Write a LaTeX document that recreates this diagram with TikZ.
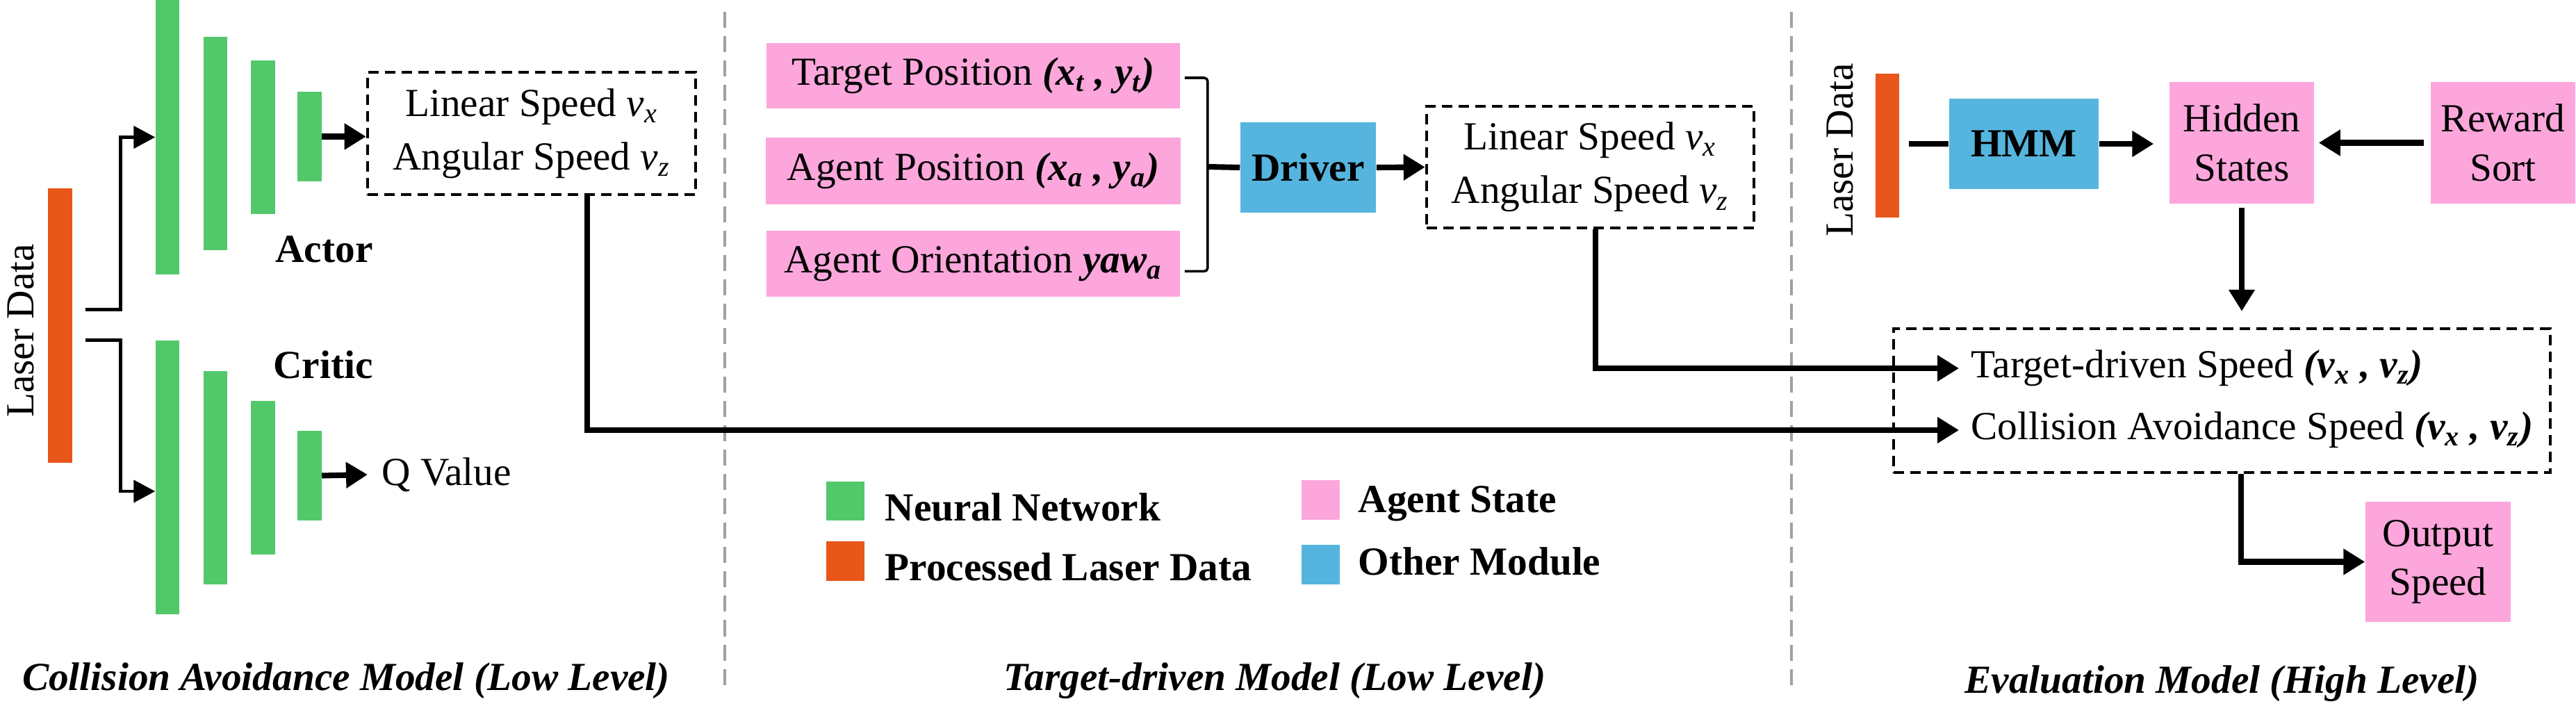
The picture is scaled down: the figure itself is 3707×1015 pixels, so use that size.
\documentclass[tikz,border=0pt]{standalone}
\usepackage{fontspec}
\setmainfont{Liberation Serif}
\usetikzlibrary{arrows.meta,positioning,calc}

\definecolor{nngreen}{RGB}{82,200,106}
\definecolor{lsrorange}{RGB}{232,86,26}
\definecolor{agpink}{RGB}{252,166,220}
\definecolor{modblue}{RGB}{86,181,222}
\definecolor{divgray}{RGB}{160,160,160}

\newcommand{\vsub}[2]{#1\textsubscript{#2}}

\begin{document}
\begin{tikzpicture}[
    x=0.01cm, y=-0.01cm,
    font=\fontsize{16.3}{20}\selectfont,
    nnbar/.style={rectangle, fill=nngreen, minimum width=0.34cm, inner sep=0pt},
    lsrbar/.style={rectangle, fill=lsrorange, minimum width=0.35cm, inner sep=0pt},
    agbox/.style={rectangle, fill=agpink, align=center, inner sep=0pt},
    modbox/.style={rectangle, fill=modblue, inner sep=0pt, font=\fontsize{16.3}{20}\selectfont\bfseries},
    spdbox/.style={rectangle, draw, line width=1.2pt, dash pattern=on 0.15cm off 0.09cm, align=center, inner sep=0pt, font=\fontsize{16.3}{22}\selectfont},
    divider/.style={draw=divgray, line width=0.9pt, dash pattern=on 0.23cm off 0.12cm},
    link/.style={line width=2.3pt},
    arrow/.style={link, -{Triangle[length=0.31cm, width=0.36cm]}},
    thinarrow/.style={line width=1.3pt, -{Triangle[length=0.31cm, width=0.32cm]}},
    legsq/.style={rectangle, minimum width=0.55cm, minimum height=0.56cm, inner sep=0pt},
    legtxt/.style={anchor=base west, inner sep=0pt, font=\fontsize{16.3}{20}\selectfont\bfseries},
    title/.style={anchor=base, inner sep=0pt, font=\fontsize{16.3}{20}\selectfont\bfseries\itshape}
]
    \useasboundingbox (0,0) rectangle (3707,1015);

    % Section dividers
    \draw[divider] (1043,17) -- (1043,995);
    \draw[divider] (2578,17) -- (2578,995);

    % Collision avoidance model
    \node[lsrbar, minimum height=3.95cm] (lsrL) at (86.5,468.5) {};
    \node[rotate=90] (lsrLtxt) at (30,476) {Laser Data};

    \node[nnbar, minimum height=3.95cm] (a1) at (241,197.5) {};
    \node[nnbar, minimum height=3.07cm] (a2) at (310,206.5) {};
    \node[nnbar, minimum height=2.21cm] (a3) at (378.5,197.5) {};
    \node[nnbar, minimum height=1.29cm] (a4) at (445.5,196.5) {};
    \node[anchor=base, inner sep=0pt, font=\fontsize{16.3}{20}\selectfont\bfseries] (actor) at (466.5,377) {Actor};

    \node[nnbar, minimum height=3.94cm] (c1) at (241,687) {};
    \node[nnbar, minimum height=3.07cm] (c2) at (310,687.5) {};
    \node[nnbar, minimum height=2.21cm] (c3) at (378.5,687.5) {};
    \node[nnbar, minimum height=1.29cm] (c4) at (445.5,684.5) {};
    \node[anchor=base, inner sep=0pt, font=\fontsize{16.3}{20}\selectfont\bfseries] (critic) at (465,544) {Critic};

    \node[spdbox, minimum width=4.72cm, minimum height=1.76cm] (actout) at (765,192)
        {Linear Speed \textit{\vsub{v}{x}}\\Angular Speed \textit{\vsub{v}{z}}};
    \node[anchor=west, inner xsep=0.2cm, inner ysep=0pt] (qval) at (529,683) {Q Value};

    \draw[thinarrow] ([xshift=0.18cm, yshift=0.23cm]lsrL.east) -- ++(51,0) |- (a1.west);
    \draw[thinarrow] ([xshift=0.18cm, yshift=-0.21cm]lsrL.east) -- ++(51,0) |- ([yshift=-0.2cm]c1.west);
    \draw[arrow] (a4.east) -- (a4.east -| actout.west);
    \draw[arrow] (c4.east) -- (qval.west);

    % Target-driven model
    \node[agbox, minimum width=5.95cm, minimum height=0.94cm] (tpos) at (1400.5,109)
        {Target Position \textbf{\textit{(\vsub{x}{t} , \vsub{y}{t})}}};
    \node[agbox, minimum width=5.97cm, minimum height=0.95cm, below=0.41cm of tpos] (apos)
        {Agent Position \textbf{\textit{(\vsub{x}{a} , \vsub{y}{a})}}};
    \node[agbox, minimum width=5.95cm, minimum height=0.95cm, below=0.37cm of apos] (aori)
        {Agent Orientation \textbf{\textit{\vsub{yaw}{a}}}};

    \node[modbox, minimum width=1.95cm, minimum height=1.30cm] (driver) at (1882.5,241) {Driver};
    \node[spdbox, minimum width=4.71cm, minimum height=1.75cm] (drvout) at (2288.5,240.5)
        {Linear Speed \textit{\vsub{v}{x}}\\Angular Speed \textit{\vsub{v}{z}}};

    \coordinate (brk) at (1737,240);
    \draw[line width=1pt, rounded corners=0.05cm] ([xshift=0.06cm, yshift=-0.03cm]tpos.east) -- ++(33,0) |- ([xshift=0.06cm, yshift=-0.11cm]aori.east);
    \draw[link] (brk) -- (driver.west);
    \draw[arrow] (driver.east) -- (drvout.west);

    % Legend
    \node[legsq, fill=nngreen] (lgnn) at (1216.5,721) {};
    \node[legtxt] (lgnntxt) at (1273,749) {Neural Network};
    \node[legsq, fill=lsrorange] (lglsr) at (1216.5,807.5) {};
    \node[legtxt] (lglsrtxt) at (1273,835) {Processed Laser Data};
    \node[legsq, fill=agpink] (lgag) at (1900.5,719.5) {};
    \node[legtxt] (lgagtxt) at (1954,737) {Agent State};
    \node[legsq, fill=modblue] (lgmod) at (1900.5,812.5) {};
    \node[legtxt] (lgmodtxt) at (1954,827) {Other Module};

    % Evaluation model
    \node[lsrbar, minimum width=0.34cm, minimum height=2.07cm] (lsrR) at (2716,209.5) {};
    \node[rotate=90] (lsrRtxt) at (2648,216) {Laser Data};
    \node[modbox, minimum width=2.15cm, minimum height=1.30cm] (hmm) at (2912.5,207) {HMM};
    \node[agbox, minimum width=2.08cm, minimum height=1.75cm] (hidden) at (3226,205.5) {Hidden\\States};
    \node[agbox, minimum width=2.08cm, minimum height=1.75cm] (reward) at (3602,205.5) {Reward\\Sort};

    \node[spdbox, minimum width=9.45cm, minimum height=2.07cm] (evalbox) at (3197.5,576.5) {};
    \node[anchor=west, inner xsep=0.17cm, inner ysep=0pt] (tdspeed) at (2819,530)
        {Target-driven Speed \textbf{\textit{(\vsub{v}{x} , \vsub{v}{z})}}};
    \node[anchor=west, inner xsep=0.17cm, inner ysep=0pt] (caspeed) at (2819,619)
        {Collision Avoidance Speed \textbf{\textit{(\vsub{v}{x} , \vsub{v}{z})}}};
    \node[agbox, minimum width=2.09cm, minimum height=1.73cm] (outspeed) at (3508.5,808.5) {Output\\Speed};

    \draw[link] ([xshift=0.13cm]hmm.west -| lsrR.east) -- (hmm.west);
    \draw[arrow, shorten >=0.22cm] (hmm.east) -- (hmm.east -| hidden.west);
    \draw[arrow, shorten <=0.09cm, shorten >=0.06cm] (reward.west) -- (hidden.east);
    \draw[arrow, shorten <=0.05cm, shorten >=0.23cm] (hidden.south) -- (hidden.south |- evalbox.north);

    % Speeds into the evaluation model
    \draw[arrow] ([xshift=0.075cm]drvout.south) |- (tdspeed.west);
    \draw[arrow] ([xshift=0.8cm]actout.south) |- (caspeed.west);
    \draw[arrow] ([xshift=0.275cm]evalbox.south) |- (outspeed.west);

    % Titles
    \node[title] (catitle) at (498,993) {Collision Avoidance Model (Low Level)};
    \node[title] (tdtitle) at (1834.5,993) {Target-driven Model (Low Level)};
    \node[title] (evtitle) at (3197.5,997) {Evaluation Model (High Level)};
\end{tikzpicture}
\end{document}
